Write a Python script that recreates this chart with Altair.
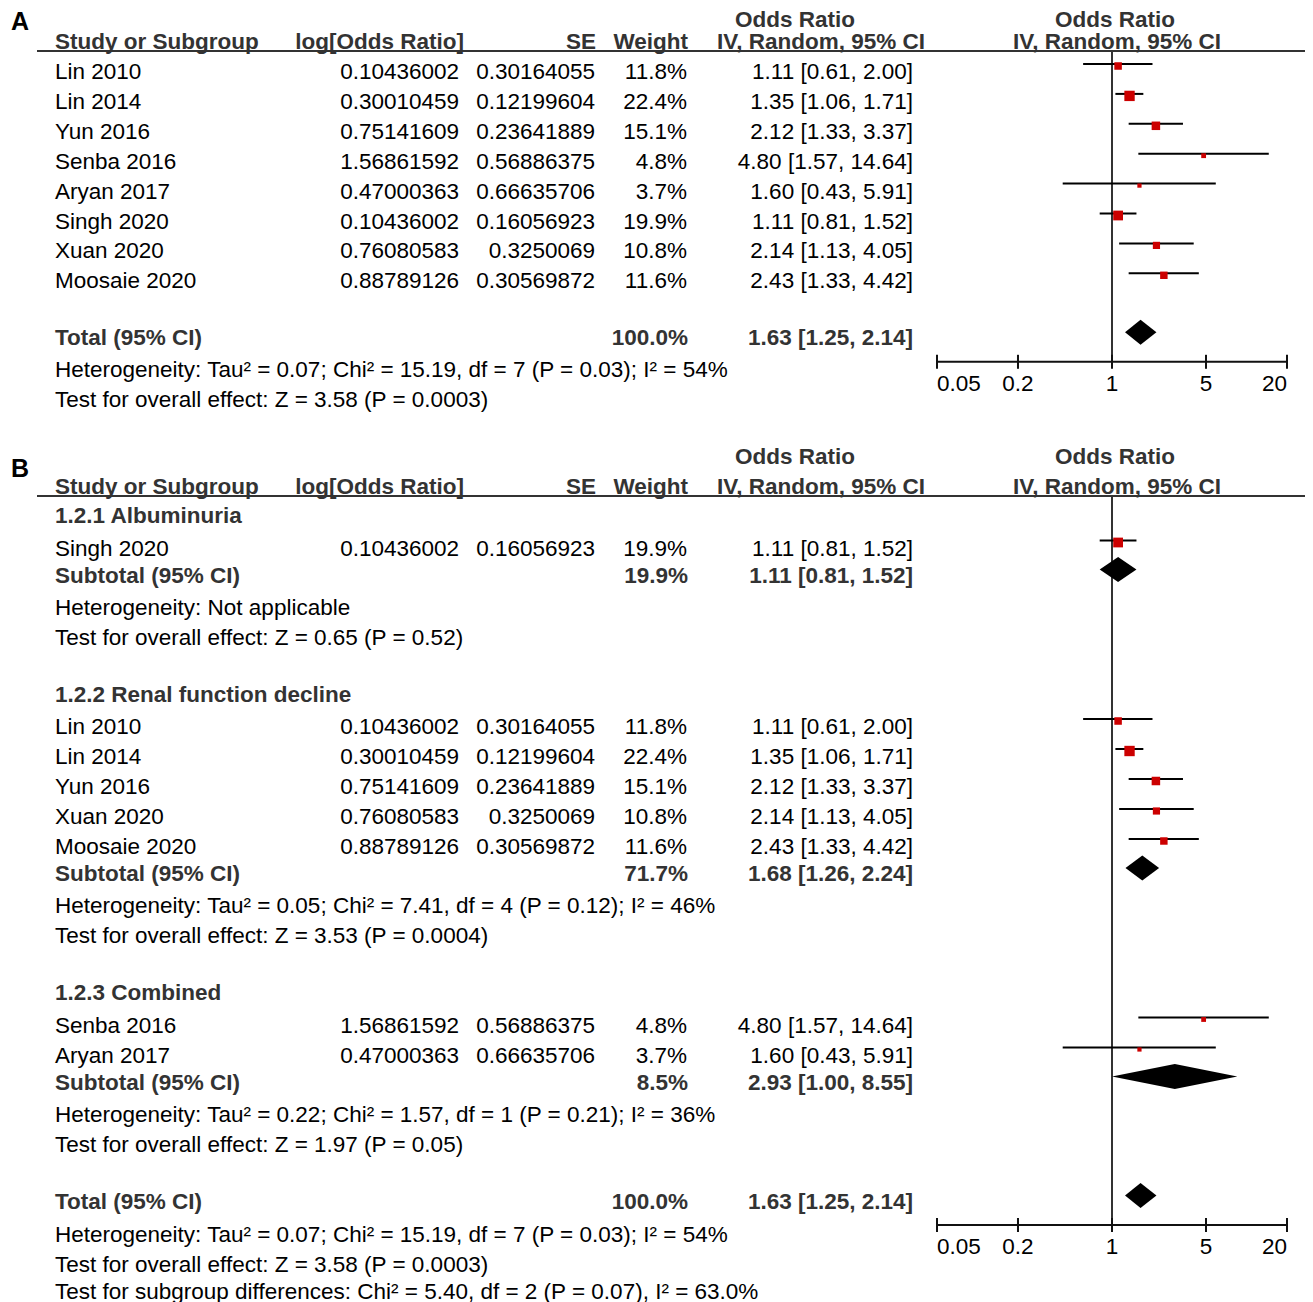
import altair as alt
import pandas as pd

# ---------------- data ----------------
studies = ["Lin 2010", "Lin 2014", "Yun 2016", "Senba 2016", "Aryan 2017",
           "Singh 2020", "Xuan 2020", "Moosaie 2020"]
log_or = ["0.10436002", "0.30010459", "0.75141609", "1.56861592", "0.47000363",
          "0.10436002", "0.76080583", "0.88789126"]
se_vals = ["0.30164055", "0.12199604", "0.23641889", "0.56886375", "0.66635706",
           "0.16056923", "0.3250069", "0.30569872"]
weights = [11.8, 22.4, 15.1, 4.8, 3.7, 19.9, 10.8, 11.6]
or_est = [1.11, 1.35, 2.12, 4.80, 1.60, 1.11, 2.14, 2.43]
or_lo = [0.61, 1.06, 1.33, 1.57, 0.43, 0.81, 1.13, 1.33]
or_hi = [2.00, 1.71, 3.37, 14.64, 5.91, 1.52, 4.05, 4.42]

group_names = ["1.2.1 Albuminuria", "1.2.2 Renal function decline", "1.2.3 Combined"]
group_members = [["Singh 2020"],
                 ["Lin 2010", "Lin 2014", "Yun 2016", "Xuan 2020", "Moosaie 2020"],
                 ["Senba 2016", "Aryan 2017"]]
group_weight = [19.9, 71.7, 8.5]
group_est = [1.11, 1.68, 2.93]
group_lo = [0.81, 1.26, 1.00]
group_hi = [1.52, 2.24, 8.55]
group_het = ["Heterogeneity: Not applicable",
             "Heterogeneity: Tau² = 0.05; Chi² = 7.41, df = 4 (P = 0.12); I² = 46%",
             "Heterogeneity: Tau² = 0.22; Chi² = 1.57, df = 1 (P = 0.21); I² = 36%"]
group_test = ["Test for overall effect: Z = 0.65 (P = 0.52)",
              "Test for overall effect: Z = 3.53 (P = 0.0004)",
              "Test for overall effect: Z = 1.97 (P = 0.05)"]

total_weight = 100.0
total_est, total_lo, total_hi = 1.63, 1.25, 2.14
total_het = "Heterogeneity: Tau² = 0.07; Chi² = 15.19, df = 7 (P = 0.03); I² = 54%"
total_test = "Test for overall effect: Z = 3.58 (P = 0.0003)"
subgroup_test = "Test for subgroup differences: Chi² = 5.40, df = 2 (P = 0.07), I² = 63.0%"

header_cols = ["Study or Subgroup", "log[Odds Ratio]", "SE", "Weight", "IV, Random, 95% CI"]
header_top = "Odds Ratio"
tick_values = [0.05, 0.2, 1, 5, 20]
tick_labels = ["0.05", "0.2", "1", "5", "20"]

# ---------------- layout ----------------
W, H, M = 1297, 1294, 8
FONT = "Liberation Sans"
FS = 22.5
HDR = "#333333"


def P(v):
    return v - M


X_NAME, X_LOG, X_SE, X_WT, X_CI = 55, 459, 595, 687, 913
LINE = 29.9
CI_DY = -8      # forest rows sit slightly above the text centre
SQ_DY = -6
DIA_DY = -6
DIA_H = 12.5

texts = []
ci_rows = []
dia_rows = []
ref_lines = []
axes_y = []
underlines = []
headers = []


def T(y, key, text):
    texts.append(dict(y=P(y), text=text, key=key))


def ci_fmt(e, lo, hi):
    return f"{e:.2f} [{lo:.2f}, {hi:.2f}]"


def study_row(y, name):
    i = studies.index(name)
    T(y, "name", name)
    T(y, "log", log_or[i])
    T(y, "se", se_vals[i])
    T(y, "wt", f"{weights[i]:.1f}%")
    T(y, "ci", ci_fmt(or_est[i], or_lo[i], or_hi[i]))
    ci_rows.append(dict(y=P(y + CI_DY), ys=P(y + SQ_DY), lo=or_lo[i], hi=or_hi[i],
                        est=or_est[i], size=4.8 * weights[i]))


def diamond(y, did, e, lo, hi):
    c = P(y + DIA_DY)
    for xv, a, b in [(lo, c, c), (e, c - DIA_H, c + DIA_H), (hi, c, c)]:
        dia_rows.append(dict(id=did, x=xv, ya=a, yb=b))


def header_block(top_y, hdr2_y, ul_y, label, label_y):
    headers.append(dict(y=P(label_y), text=label, kind="panel"))
    headers.append(dict(y=P(top_y), text=header_top, kind="top"))
    for i, h in enumerate(header_cols):
        headers.append(dict(y=P(hdr2_y), text=h, kind=f"h{i}"))
    headers.append(dict(y=P(hdr2_y), text=header_cols[4], kind="rh"))
    headers.append(dict(y=P(top_y), text=header_top, kind="rtop"))
    underlines.append(dict(y=P(ul_y)))


# ---- panel A ----
header_block(19.5, 42, 51, "A", 22)
y = 72
for s in studies:
    study_row(y, s)
    last = y
    y += LINE
y = last + 57
T(y, "nameB", "Total (95% CI)")
T(y, "wtB", f"{total_weight:.1f}%")
T(y, "ciB", ci_fmt(total_est, total_lo, total_hi))
diamond(y, "A_total", total_est, total_lo, total_hi)
ax = y + 23.5
T(y + 32, "name", total_het)
T(y + 62, "name", total_test)
ref_lines.append(dict(y1=P(51), y2=P(ax)))
axes_y.append(P(ax))

# ---- panel B ----
header_block(457, 487, 496, "B", 469)
y = 487 + 29
for gi, g in enumerate(group_names):
    T(y, "nameB", g)
    y += 32.5
    for s in group_members[gi]:
        study_row(y, s)
        last = y
        y += 30
    y = last + 27
    T(y, "nameB", "Subtotal (95% CI)")
    T(y, "wtB", f"{group_weight[gi]:.1f}%")
    T(y, "ciB", ci_fmt(group_est[gi], group_lo[gi], group_hi[gi]))
    diamond(y, f"B_{gi}", group_est[gi], group_lo[gi], group_hi[gi])
    y += 32
    T(y, "name", group_het[gi])
    y += 30
    T(y, "name", group_test[gi])
    y += 57
T(y, "nameB", "Total (95% CI)")
T(y, "wtB", f"{total_weight:.1f}%")
T(y, "ciB", ci_fmt(total_est, total_lo, total_hi))
diamond(y, "B_total", total_est, total_lo, total_hi)
ax = y + 23.5
T(y + 33, "name", total_het)
T(y + 63, "name", total_test)
T(y + 90, "name", subgroup_test)
ref_lines.append(dict(y1=P(496), y2=P(ax)))
axes_y.append(P(ax))

text_df = pd.DataFrame(texts)
hdr_df = pd.DataFrame(headers)
ci_df = pd.DataFrame(ci_rows)
dia_df = pd.DataFrame(dia_rows)
ref_df = pd.DataFrame([dict(x=1.0, **r) for r in ref_lines])
ul_df = pd.DataFrame(underlines)
axis_df = pd.DataFrame([dict(y=a, x1=tick_values[0], x2=tick_values[-1]) for a in axes_y])
tick_df = pd.DataFrame([dict(y=a, y1=a - 7, y2=a + 7, lab_y=a + 22, x=v, label=l,
                             pos=("first" if j == 0 else "last" if j == len(tick_values) - 1 else "mid"))
                        for a in axes_y for j, (v, l) in enumerate(zip(tick_values, tick_labels))])

YS = alt.Scale(domain=[0, H], reverse=True, zero=False, nice=False)
XS = alt.Scale(type="log", domain=[tick_values[0], tick_values[-1]],
               range=[P(937), P(1287)], nice=False)


def Y(f):
    return alt.Y(f, type="quantitative", scale=YS, axis=None)


def Xf(f):
    return alt.X(f, type="quantitative", scale=XS, axis=None)


layers = []


def text_layer(df, x, align, bold=False, color="black", size=FS):
    return alt.Chart(df).mark_text(
        align=align, baseline="middle", font=FONT, fontSize=size,
        fontWeight="bold" if bold else "normal", color=color
    ).encode(x=alt.value(P(x)), y=Y("y"), text=alt.Text("text:N"))


specs = {
    "name": (X_NAME, "left", False, "black"),
    "log": (X_LOG, "right", False, "black"),
    "se": (X_SE, "right", False, "black"),
    "wt": (X_WT, "right", False, "black"),
    "ci": (X_CI, "right", False, "black"),
    "nameB": (X_NAME, "left", True, HDR),
    "wtB": (X_WT + 1, "right", True, HDR),
    "ciB": (X_CI, "right", True, HDR),
}
for k, (x, al, b, c) in specs.items():
    layers.append(text_layer(text_df[text_df.key == k], x, al, b, c))

hspecs = {
    "panel": (11, "left", "black", 25),
    "top": (795, "center", HDR, FS),
    "h0": (55, "left", HDR, FS),
    "h1": (464, "right", HDR, FS),
    "h2": (596, "right", HDR, FS),
    "h3": (688, "right", HDR, FS),
    "h4": (925, "right", HDR, FS),
    "rh": (1117, "center", HDR, FS),
    "rtop": (1115, "center", HDR, FS),
}
for k, (x, al, c, sz) in hspecs.items():
    layers.append(text_layer(hdr_df[hdr_df.kind == k], x, al, True, c, sz))

# header underline
layers.append(alt.Chart(ul_df).mark_rule(color=HDR, strokeWidth=2).encode(
    x=alt.value(P(37)), x2=alt.value(P(1312)), y=Y("y")))

# reference line at OR = 1
layers.append(alt.Chart(ref_df).mark_rule(color="#333333", strokeWidth=2).encode(
    x=Xf("x"), y=Y("y1"), y2="y2"))

# confidence intervals
layers.append(alt.Chart(ci_df).mark_rule(color="black", strokeWidth=2).encode(
    x=Xf("lo"), x2="hi", y=Y("y")))

# study squares
layers.append(alt.Chart(ci_df).mark_point(shape="square", filled=True, color="#cc0000",
                                          opacity=1).encode(
    x=Xf("est"), y=Y("ys"), size=alt.Size("size:Q", scale=None)))

# pooled-estimate diamonds (one area per diamond)
for did in dia_df["id"].unique():
    layers.append(alt.Chart(dia_df[dia_df["id"] == did]).mark_area(
        color="black", opacity=1, interpolate="linear").encode(
        x=Xf("x"),
        y=alt.Y("ya", type="quantitative", scale=YS, axis=None, stack=None),
        y2=alt.Y2("yb")))

# manual axes
layers.append(alt.Chart(axis_df).mark_rule(color="#111111", strokeWidth=2).encode(
    x=Xf("x1"), x2="x2", y=Y("y")))
layers.append(alt.Chart(tick_df).mark_rule(color="#111111", strokeWidth=2).encode(
    x=Xf("x"), y=Y("y1"), y2="y2"))
for pos, al in [("first", "left"), ("mid", "center"), ("last", "right")]:
    layers.append(alt.Chart(tick_df[tick_df.pos == pos]).mark_text(
        align=al, baseline="middle", font=FONT, fontSize=FS, color="black").encode(
        x=Xf("x"), y=Y("lab_y"), text="label:N"))

chart = alt.layer(*layers).properties(
    width=W, height=H, padding=0,
    autosize=alt.AutoSizeParams(type="none"),
).configure_view(stroke=None)

chart.save("out.html", embed_options={"renderer": "svg", "actions": False})
